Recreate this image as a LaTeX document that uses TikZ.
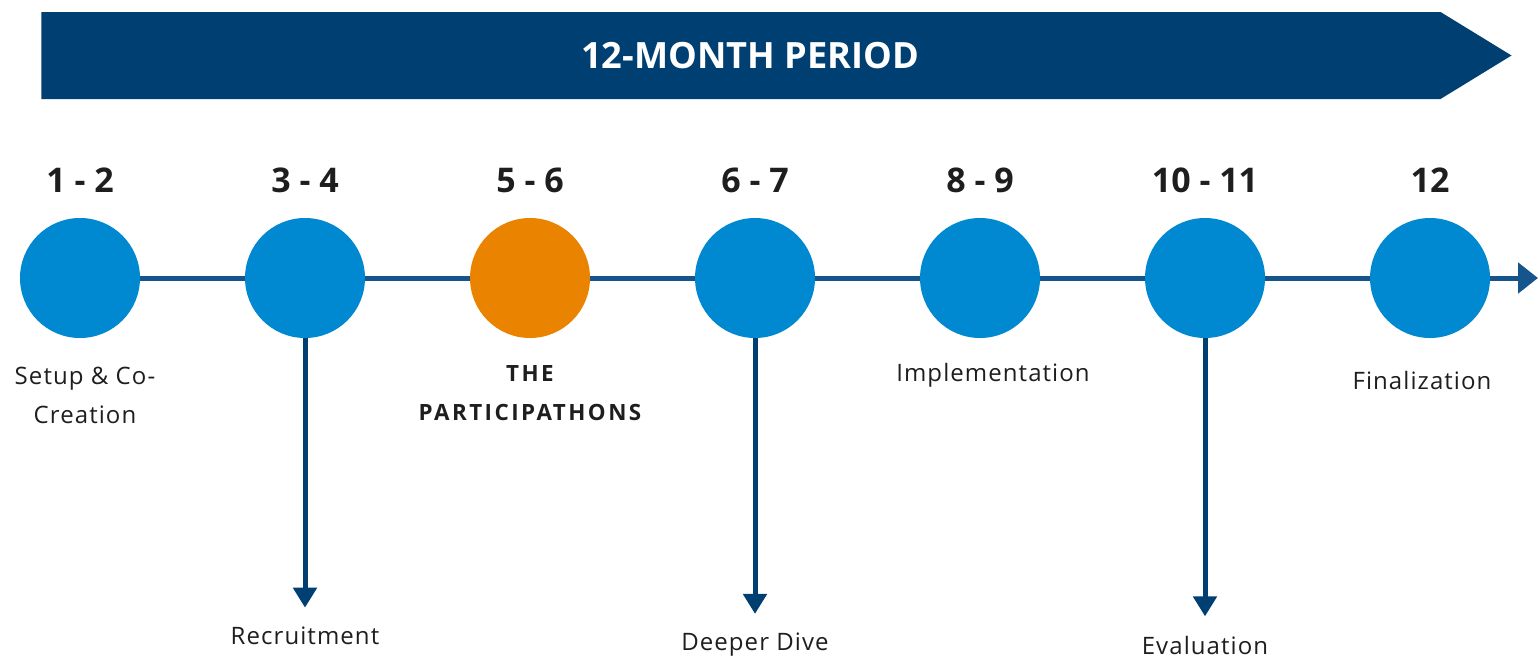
\documentclass[tikz,border=0pt]{standalone}
\usepackage{fontspec}
\setmainfont{Open Sans}
\newfontfamily\captionfont[LetterSpace=4.5]{Open Sans}
\newfontfamily\headfont[LetterSpace=11]{Open Sans}
\usetikzlibrary{positioning,arrows.meta,shapes.symbols}
\definecolor{periodblue}{RGB}{0,63,114}
\definecolor{phaseblue}{RGB}{0,137,208}
\definecolor{phaseorange}{RGB}{234,132,0}
\definecolor{lineblue}{RGB}{22,84,140}
\definecolor{labelgray}{RGB}{30,30,30}

\begin{document}
\begin{tikzpicture}[
    node distance=112.5pt,
    phase/.style={circle, fill=phaseblue, minimum size=60pt, inner sep=0pt},
    month/.style={font=\bfseries\fontsize{17}{20}\selectfont, text=labelgray},
    caption/.style={font=\captionfont\fontsize{12}{19.5}\selectfont, text=labelgray, align=center, inner sep=0pt},
    timeline/.style={line width=2.5pt, lineblue},
    drop/.style={-{Triangle[length=10pt,width=11.5pt]}, line width=2.5pt, periodblue, shorten >=9.5pt}
]
\useasboundingbox (0,0) rectangle (770pt,-329.5pt);

% Banner
\node[signal, signal to=east, signal pointer angle=63, fill=periodblue, minimum width=735pt, minimum height=43.5pt, inner sep=0pt, outer sep=0pt] (banner) at (370.5pt,-27.75pt) {};
\node[font=\bfseries\fontsize{18.1}{20}\selectfont, text=white] (period) at ([xshift=4.5pt]banner.center) {12-MONTH PERIOD};

% Phases
\node[phase] (m12) at (40pt,-139pt) {};
\node[phase, right of=m12] (m34) {};
\node[phase, right of=m34, fill=phaseorange] (m56) {};
\node[phase, right of=m56] (m67) {};
\node[phase, right of=m67] (m89) {};
\node[phase, right of=m89] (m1011) {};
\node[phase, right of=m1011] (m12th) {};
\coordinate[right of=m12th, node distance=54pt] (tlend);

% Months
\node[month, above of=m12, node distance=49pt] {1 - 2};
\node[month, above of=m34, node distance=49pt] {3 - 4};
\node[month, above of=m56, node distance=49pt] {5 - 6};
\node[month, above of=m67, node distance=49pt] {6 - 7};
\node[month, above of=m89, node distance=49pt] {8 - 9};
\node[month, above of=m1011, node distance=49pt] {10 - 11};
\node[month, above of=m12th, node distance=49pt] {12};

% Captions
\node[caption, below of=m12, node distance=58.5pt, xshift=2.5pt] (setup) {Setup \& Co-\\Creation};
\node[caption, below of=m56, node distance=57.5pt, font=\headfont\bfseries\fontsize{11.2}{19.5}\selectfont] (parti) {THE\\PARTICIPATHONS};
\node[caption, below of=m89, node distance=48.5pt, xshift=6.5pt] (impl) {Implementation};
\node[caption, below of=m12th, node distance=51pt, xshift=-4pt] (final) {Finalization};
\node[caption, below of=m34, node distance=179pt] (recruit) {Recruitment};
\node[caption, below of=m67, node distance=183.5pt] (dive) {Deeper Dive};
\node[caption, below of=m1011, node distance=183.5pt] (eval) {Evaluation};

% Connections
\draw[timeline, -{Triangle[length=10pt,width=15pt]}] (m12) -- (m34) -- (m56) -- (m67) -- (m89) -- (m1011) -- (m12th) -- (tlend);
\draw[drop] (m34) -- (recruit);
\draw[drop] (m67) -- (dive);
\draw[drop] (m1011) -- (eval);

\end{tikzpicture}
\end{document}
